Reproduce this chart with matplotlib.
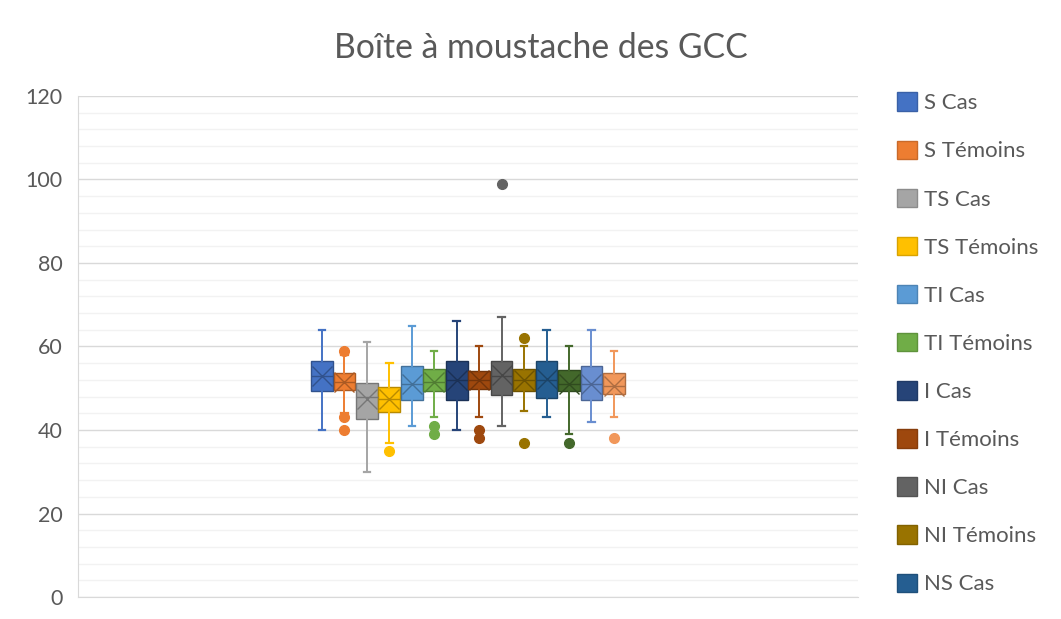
import matplotlib
matplotlib.use("Agg")
import matplotlib.pyplot as plt
from matplotlib.patches import Patch
import matplotlib.colors as mcolors
import numpy as np

plt.rcParams['font.family'] = ['Lato', 'DejaVu Sans']

# ---- data ----
series = ["S Cas", "S Témoins", "TS Cas", "TS Témoins", "TI Cas", "TI Témoins",
          "I Cas", "I Témoins", "NI Cas", "NI Témoins", "NS Cas",
          "NS Témoins", "", ""]
legend_series = series[:11]
whislo = [40, 44, 30, 37, 41, 43, 40, 43, 41, 44.5, 43, 39, 42, 43]
q1 = [49.4, 49.6, 42.7, 44.4, 47.2, 49.4, 47.2, 49.7, 48.4, 49.4, 47.6, 49.4, 47.3, 48.6]
med = [53, 51.5, 48, 47.5, 51, 51.5, 52, 52, 53, 52, 52, 51, 51, 50.5]
mean = [53, 51.5, 47.5, 47.5, 51, 51.5, 52, 52, 53.2, 52, 52.3, 51, 51, 50.5]
q3 = [56.6, 53.7, 51.3, 50.4, 55.3, 54.5, 56.6, 54.2, 56.6, 54.5, 56.6, 54.4, 55.3, 53.6]
whishi = [64, 58, 61, 56, 65, 59, 66, 60, 67, 60, 64, 60, 64, 59]
fliers = [[], [59, 43, 40], [], [35], [], [41, 39], [], [40, 38], [99], [62, 37],
          [], [37], [], [38]]

colors = ["#4472C4", "#ED7D31", "#A5A5A5", "#FFC000", "#5B9BD5", "#70AD47",
          "#264478", "#9E480E", "#636363", "#997300", "#255E91", "#43682B",
          "#698ED0", "#F1975A"]


def darker(c, f=0.72):
    r, g, b = mcolors.to_rgb(c)
    return (r * f, g * f, b * f)


fig = plt.figure(figsize=(10.61, 6.19), dpi=100)
ax = fig.add_axes([0.0735, 0.0355, 0.735, 0.8095])

n = len(series)
step = 0.0288
positions = 0.5 + (np.arange(n) - (n - 1) / 2) * step
width = 0.0278

for i in range(n):
    st = dict(whislo=whislo[i], q1=q1[i], med=med[i], q3=q3[i], whishi=whishi[i],
              mean=mean[i], fliers=fliers[i], label=series[i])
    c = colors[i]
    d = darker(c)
    ax.bxp([st], positions=[positions[i]], widths=width, patch_artist=True,
           showmeans=True, showfliers=True,
           boxprops=dict(facecolor=c, edgecolor=d, linewidth=1.0),
           medianprops=dict(color=d, linewidth=1.0),
           whiskerprops=dict(color=c, linewidth=1.4),
           capprops=dict(color=c, linewidth=1.6),
           capwidths=width * 0.3,
           meanprops=dict(marker='x', markersize=15, markeredgecolor=d,
                          markeredgewidth=1.0),
           flierprops=dict(marker='o', markersize=7, markerfacecolor=c,
                           markeredgecolor=c))

ax.set_xlim(0, 1)
ax.set_ylim(0, 120)
ax.set_yticks(np.arange(0, 121, 20))
ax.set_yticks(np.arange(0, 121, 4), minor=True)
ax.set_xticks([])
ax.grid(True, which='major', axis='y', color='#D9D9D9', linewidth=1.0)
ax.grid(True, which='minor', axis='y', color='#F2F2F2', linewidth=1.0)
ax.set_axisbelow(True)
for s in ['top', 'right']:
    ax.spines[s].set_visible(False)
for s in ['left', 'bottom']:
    ax.spines[s].set_color('#D9D9D9')
ax.tick_params(axis='y', which='both', length=0, labelsize=15.5,
               labelcolor='#595959', pad=11)

fig.text(0.51, 0.922, "Boîte à moustache des GCC", ha='center', va='center',
         fontsize=24.3, color='#595959')

handles = [Patch(facecolor=colors[i], edgecolor=darker(colors[i], 0.85))
           for i in range(len(legend_series))]
fig.legend(handles, legend_series, loc='upper left',
           bbox_to_anchor=(0.8373, 0.865), frameon=False, fontsize=16,
           labelcolor='#595959', handlelength=0.9, handleheight=0.9,
           labelspacing=1.225, handletextpad=0.3, borderaxespad=0)

fig.savefig("out.png", dpi=100)
